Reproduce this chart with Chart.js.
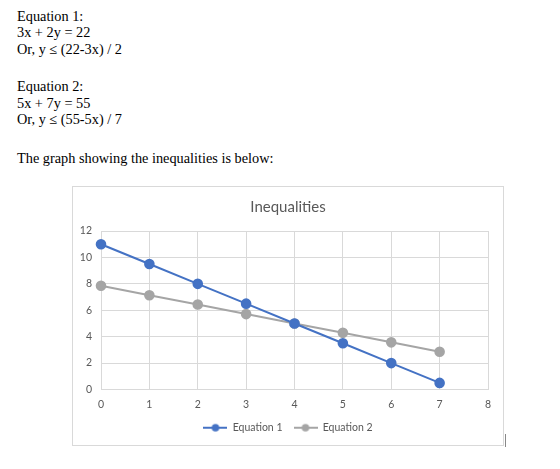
<!DOCTYPE html>
<html>
<head>
<meta charset="utf-8">
<script src="https://cdn.jsdelivr.net/npm/chart.js@4/dist/chart.umd.min.js"></script>
<style>
  body { margin: 0; background: #fff; width: 560px; height: 469px; position: relative; overflow: hidden; }
  .txt { position: absolute; left: 17px; font-family: "Liberation Serif", "Times New Roman", serif; font-size: 14.3px; line-height: 16.7px; color: #000; white-space: nowrap; }
  #chartBox { position: absolute; left: 72px; top: 186px; width: 430px; height: 258px; border: 1px solid #d9d9d9; }
  #chartBox canvas { position: absolute; left: 0; top: 0; }
  #cursor { position: absolute; left: 505px; top: 434px; width: 1px; height: 13px; background: #888; }
</style>
</head>
<body>
<div class="txt" style="top:7.5px">Equation 1:<br>3x + 2y = 22<br>Or, y ≤ (22-3x) / 2</div>
<div class="txt" style="top:78px">Equation 2:<br>5x + 7y = 55<br>Or, y ≤ (55-5x) / 7</div>
<div class="txt" style="top:150px">The graph showing the inequalities is below:</div>
<div id="chartBox"><canvas id="ineqChart" width="430" height="258"></canvas></div>
<div id="cursor"></div>
<script>
// chart data
const xValues = [0, 1, 2, 3, 4, 5, 6, 7];
const equation1 = [11, 9.5, 8, 6.5, 5, 3.5, 2, 0.5];
const equation2 = [7.86, 7.14, 6.43, 5.71, 5, 4.29, 3.57, 2.86];
const seriesNames = ['Equation 1', 'Equation 2'];
const seriesColors = ['#4472c4', '#a5a5a5'];
const xTicks = [0, 1, 2, 3, 4, 5, 6, 7, 8];
const yTicks = [0, 2, 4, 6, 8, 10, 12];

function legendMarker(color) {
    const c = document.createElement('canvas');
    c.width = 24;
    c.height = 10;
    const g = c.getContext('2d');
    g.strokeStyle = color;
    g.lineWidth = 2;
    g.beginPath();
    g.moveTo(0, 5);
    g.lineTo(24, 5);
    g.stroke();
    g.fillStyle = color;
    g.beginPath();
    g.arc(12, 5, 3.8, 0, Math.PI * 2);
    g.fill();
    return c;
}

function toPoints(ys) {
    return xValues.map((x, i) => ({ x: x, y: ys[i] }));
}

const gridColor = '#d9d9d9';
const tickColor = '#595959';
const uiFont = 'Lato, "Open Sans", sans-serif';

document.addEventListener('DOMContentLoaded', function () {
    const ctx = document.getElementById('ineqChart').getContext('2d');
    new Chart(ctx, {
        type: 'scatter',
        data: {
            datasets: [equation1, equation2].map((ys, i) => ({
                label: seriesNames[i],
                data: toPoints(ys),
                showLine: true,
                clip: false,
                borderColor: seriesColors[i],
                backgroundColor: seriesColors[i],
                borderWidth: 2,
                pointRadius: 4.3,
                pointHoverRadius: 4.3,
                pointStyle: 'circle'
            }))
        },
        options: {
            responsive: false,
            animation: false,
            layout: { padding: { left: 0, right: 0, top: 0, bottom: 2 } },
            plugins: {
                title: {
                    display: true,
                    text: 'Inequalities',
                    color: tickColor,
                    font: { family: uiFont, size: 15, weight: 'normal' },
                    padding: { top: 11, bottom: 15 }
                },
                legend: {
                    position: 'bottom',
                    labels: {
                        color: tickColor,
                        font: { family: uiFont, size: 10.5 },
                        usePointStyle: true,
                        pointStyleWidth: 24,
                        padding: 11,
                        generateLabels: function (chart) {
                            return chart.data.datasets.map((ds, i) => ({
                                text: ds.label,
                                fontColor: tickColor,
                                pointStyle: legendMarker(seriesColors[i]),
                                datasetIndex: i,
                                lineWidth: 0
                            }));
                        }
                    }
                },
                tooltip: { enabled: false }
            },
            scales: {
                x: {
                    type: 'linear',
                    min: xTicks[0],
                    max: xTicks[xTicks.length - 1],
                    afterBuildTicks: function (scale) {
                        scale.ticks = xTicks.map(v => ({ value: v }));
                    },
                    afterFit: function (scale) { scale.height = 22; },
                    grid: { color: gridColor, drawTicks: false },
                    border: { color: gridColor },
                    ticks: { color: tickColor, font: { family: uiFont, size: 10.5 }, padding: 9 }
                },
                y: {
                    min: yTicks[0],
                    max: yTicks[yTicks.length - 1],
                    afterBuildTicks: function (scale) {
                        scale.ticks = yTicks.map(v => ({ value: v }));
                    },
                    afterFit: function (scale) { scale.width = 28; },
                    grid: { color: gridColor, drawTicks: false },
                    border: { color: gridColor },
                    ticks: { color: tickColor, font: { family: uiFont, size: 10.5 }, padding: 9 }
                },
                // empty right-hand spacer so title and legend stay centred on the whole box
                spacer: {
                    type: 'linear',
                    position: 'right',
                    afterFit: function (scale) { scale.width = 15; },
                    grid: { display: false },
                    border: { display: false },
                    ticks: { display: false }
                }
            }
        }
    });
});
</script>
</body>
</html>
